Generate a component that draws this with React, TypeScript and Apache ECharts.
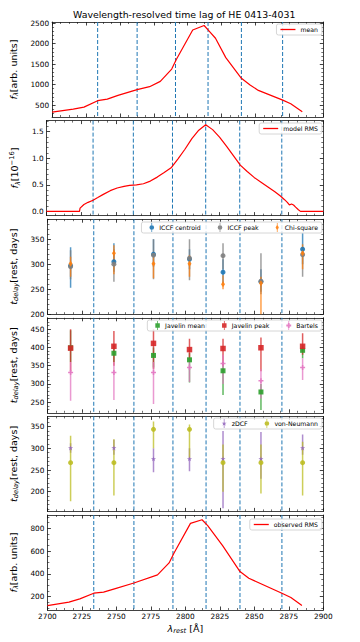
import React, { useEffect, useRef } from 'react';
import * as echarts from 'echarts';

const FONT = 'DejaVu Sans';

// ---------- data ----------
const xTickStep = 25;
const binEdges = [2733.6, 2762.7, 2791.0, 2815.0, 2839.6, 2870.0];
const binCenters = [2716.8, 2748.2, 2776.9, 2803.0, 2827.3, 2854.8, 2885.0];

const meanWave = [2700, 2715.6, 2723.5, 2733.6, 2740.7, 2748.6, 2762.7, 2771.9, 2779.8, 2788.2, 2791.8, 2803.7, 2812.1, 2815.5, 2820.5, 2828.1, 2839.6, 2846.0, 2852.1, 2870.1, 2876.0, 2884.5];
const meanFlux = [329, 402, 451, 608, 647, 737, 877, 950, 1080, 1380, 1625, 2336, 2444, 2321, 2133, 1660, 1154, 990, 860, 622, 534, 338];

const modelWave = [2700, 2710, 2720, 2723.8, 2724.2, 2727, 2730, 2733.6, 2737, 2741, 2746, 2751, 2756, 2760, 2765, 2770, 2775, 2780, 2785, 2790, 2795, 2800, 2805, 2810, 2815, 2820, 2825, 2830, 2835, 2840, 2845, 2850, 2855, 2860, 2865, 2869, 2872, 2874, 2875.5, 2877, 2878.5, 2880, 2882, 2883.5, 2890, 2900];
const modelFlux = [0, 0, 0, 0, 0.06, 0.13, 0.17, 0.21, 0.26, 0.32, 0.39, 0.44, 0.47, 0.49, 0.5, 0.52, 0.57, 0.645, 0.73, 0.82, 0.99, 1.17, 1.37, 1.53, 1.63, 1.54, 1.4, 1.23, 1.05, 0.87, 0.75, 0.64, 0.55, 0.46, 0.37, 0.29, 0.22, 0.17, 0.12, 0.14, 0.12, 0.08, 0.03, 0.0, 0, 0];

const rmsWave = [2700, 2715.6, 2723.5, 2733.6, 2740.7, 2748.6, 2762.7, 2779.8, 2788.2, 2791.8, 2803.7, 2812.1, 2816.2, 2827.0, 2839.6, 2846.0, 2870.0, 2876.5, 2884.5];
const rmsFlux = [120, 150, 179, 229, 238, 267, 319, 390, 495, 582, 843, 875, 823, 647, 419, 360, 229, 191, 121];

const iccfCentroid = [297, 305, 320, 310, 284, 265, 330];
const iccfCentroidLo = [253, 285, 295, 290, 262, 245, 300];
const iccfCentroidHi = [334, 342, 350, 330, 310, 290, 362];
const iccfPeak = [295, 300, 318, 312, 317, 266, 319];
const iccfPeakLo = [270, 265, 270, 268, 290, 240, 275];
const iccfPeakHi = [328, 330, 350, 350, 342, 322, 332];
const chiSquare = [301, 322, 301, 301, 260, 262, 322];
const chiSquareLo = [275, 280, 272, 275, 250, 195, 290];
const chiSquareHi = [315, 338, 318, 318, 278, 275, 340];

const javelinMean = [399, 384, 378, 366, 336, 278, 392];
const javelinMeanLo = [360, 360, 345, 304, 270, 229, 370];
const javelinMeanHi = [447, 405, 400, 385, 360, 300, 405];
const javelinPeak = [398, 403, 411, 394, 397, 399, 403];
const javelinPeakLo = [334, 350, 340, 370, 350, 335, 380];
const javelinPeakHi = [450, 445, 450, 424, 424, 427, 439];
const bartels = [331, 331, 331, 345, 356, 309, 345];
const bartelsLo = [254, 256, 245, 305, 300, 260, 311];
const bartelsHi = [360, 360, 360, 370, 380, 340, 370];

const zdcf = [301, 301, 276, 276, 276, 276, 301];
const zdcfLo = [290, 285, 245, 247, 162, 230, 285];
const zdcfHi = [312, 320, 300, 300, 340, 338, 332];
const vonNeumann = [267, 267, 344, 344, 267, 267, 267];
const vonNeumannLo = [178, 191, 300, 278, 200, 196, 191];
const vonNeumannHi = [329, 321, 362, 355, 309, 309, 315];

const yTicks1 = [500, 1000, 1500, 2000, 2500];
const yTicks2 = [0, 0.5, 1.0, 1.5];
const yTicks3 = [200, 250, 300, 350];
const yTicks4 = [250, 300, 350, 400, 450];
const yTicks5 = [200, 250, 300, 350];
const yTicks6 = [200, 400, 600, 800];

// ---------- layout / styles ----------
const panelTops = [22, 120.6, 219.2, 317.8, 416.4, 515];
const PANEL_H = 95;
const GRID_LEFT = 45;
const GRID_W = 278.3;

const AX = '#111';
const TICK_FS = 7.35;
const LBL_FS = 9.5;
const SUB_FS = 6.7;

const richLabel = {
  i: { fontSize: LBL_FS, fontStyle: 'italic', fontFamily: FONT, color: '#000', lineHeight: 13, verticalAlign: 'middle' },
  s: { fontSize: SUB_FS, fontStyle: 'italic', fontFamily: FONT, color: '#000', lineHeight: 13, verticalAlign: 'bottom' },
  p: { fontSize: SUB_FS, fontFamily: FONT, color: '#000', lineHeight: 13, verticalAlign: 'top' },
  n: { fontSize: LBL_FS, fontFamily: FONT, color: '#000', lineHeight: 13, verticalAlign: 'middle' },
};

const ICON_CIRCLE = 'path://M4.6,0H5.4V10H4.6Z M2.4,5A2.6,2.6 0 1 1 7.6,5A2.6,2.6 0 1 1 2.4,5Z';
const ICON_SQUARE = 'path://M4.6,0H5.4V10H4.6Z M2.5,2.5H7.5V7.5H2.5Z';
const ICON_DIAMOND = 'path://M4.6,0H5.4V10H4.6Z M5,1.8L6.8,5L5,8.2L3.2,5Z';
const ICON_PLUS = 'path://M4.6,0H5.4V10H4.6Z M4,2.3H6V4H7.7V6H6V7.7H4V6H2.3V4H4Z';
const ICON_STAR = 'path://M4.6,0H5.4V10H4.6Z M5,2.2L5.7,4.2L7.8,4.2L6.1,5.4L6.7,7.5L5,6.2L3.3,7.5L3.9,5.4L2.2,4.2L4.3,4.2Z';

const SYM_PLUS = 'path://M35,0H65V35H100V65H65V100H35V65H0V35H35Z';
const SYM_STAR = 'path://M50,0L61,35L98,35L68,57L79,91L50,70L21,91L32,57L2,35L39,35Z';

function minorValues(min: number, max: number, step: number, majors: number[]) {
  const out: number[] = [];
  const start = Math.ceil(min / step - 1e-9) * step;
  for (let v = start; v <= max + 1e-9; v += step) {
    const r = Math.round(v * 1e6) / 1e6;
    if (!majors.some((m) => Math.abs(m - r) < 1e-6)) out.push(r);
  }
  return out;
}

const yCfg = [
  { min: 210, max: 2530, majors: yTicks1, step: 100, fmt: (v: number) => String(v), name: '{i|f}{s|λ}{n|[arb. units]}' },
  { min: -0.08, max: 1.71, majors: yTicks2, step: 0.1, fmt: (v: number) => v.toFixed(1), name: '{i|f}{s|λ}{n|[10}{p|−16}{n|]}' },
  { min: 200, max: 390, majors: yTicks3, step: 10, fmt: (v: number) => String(v), name: '{i|t}{s|delay}{n|[rest, days]}' },
  { min: 221, max: 481, majors: yTicks4, step: 10, fmt: (v: number) => String(v), name: '{i|t}{s|delay}{n|[rest, days]}' },
  { min: 154.5, max: 373.8, majors: yTicks5, step: 10, fmt: (v: number) => String(v), name: '{i|t}{s|delay}{n|[rest, days]}' },
  { min: 81, max: 917, majors: yTicks6, step: 50, fmt: (v: number) => String(v), name: '{i|f}{s|λ}{n|[arb. units]}' },
];

function buildOption() {
  const grid = panelTops.map((t) => ({ left: GRID_LEFT, width: GRID_W, top: t, height: PANEL_H, containLabel: false }));
  const lineStyle = { color: AX, width: 0.8 };
  const xAxis: any[] = [];
  const yAxis: any[] = [];
  panelTops.forEach((_, g) => {
    const isLast = g === panelTops.length - 1;
    ['bottom', 'top'].forEach((pos) => {
      xAxis.push({
        type: 'value', gridIndex: g, position: pos, min: 2700, max: 2900, interval: xTickStep,
        axisLine: { show: true, onZero: false, lineStyle },
        axisTick: { show: true, inside: true, length: 3.5, lineStyle },
        minorTick: { show: true, splitNumber: 4, length: 2, lineStyle: { color: AX, width: 0.6 } },
        splitLine: { show: false },
        minorSplitLine: { show: false },
        axisLabel: {
          show: isLast && pos === 'bottom', fontSize: TICK_FS, color: '#000', fontFamily: FONT, margin: 3,
          formatter: (v: number) => String(v),
        },
        name: isLast && pos === 'bottom' ? '{i|λ}{s|rest}{n| [Å]}' : '',
        nameLocation: 'middle', nameGap: 11.5,
        nameTextStyle: { rich: richLabel },
      });
    });
    const c = yCfg[g];
    const minors = minorValues(c.min, c.max, c.step, c.majors);
    ['left', 'right'].forEach((pos) => {
      yAxis.push({
        type: 'value', gridIndex: g, position: pos, min: c.min, max: c.max,
        axisLine: { show: true, onZero: false, lineStyle },
        axisTick: { show: true, inside: true, length: 3.5, customValues: c.majors, lineStyle },
        axisLabel: { show: pos === 'left', customValues: c.majors, formatter: c.fmt, fontSize: TICK_FS, color: '#000', fontFamily: FONT, margin: 3 },
        splitLine: { show: false },
        name: pos === 'left' ? c.name : '',
        nameLocation: 'middle', nameRotate: 90, nameGap: 17.5,
        nameTextStyle: { rich: richLabel },
      });
      yAxis.push({
        type: 'value', gridIndex: g, position: pos, min: c.min, max: c.max,
        axisLine: { show: false, onZero: false },
        axisTick: { show: true, inside: true, length: 2, customValues: minors, lineStyle: { color: AX, width: 0.6 } },
        axisLabel: { show: false },
        splitLine: { show: false },
      });
    });
  });

  const series: any[] = [];
  // dashed bin edges
  yCfg.forEach((c, g) => {
    series.push({
      type: 'custom', name: 'edges' + g, xAxisIndex: 2 * g, yAxisIndex: 4 * g, silent: true, z: 1,
      data: binEdges.map((e) => [e, (c.min + c.max) / 2]),
      encode: { x: 0, y: 1 },
      renderItem: (params: any, api: any) => {
        const cs = params.coordSys;
        const x = api.coord([api.value(0), api.value(1)])[0];
        return {
          type: 'line',
          shape: { x1: x, y1: cs.y, x2: x, y2: cs.y + cs.height },
          style: { stroke: '#1f77b4', lineWidth: 1, lineDash: [4, 2] },
        };
      },
    });
  });

  const addLine = (name: string, g: number, xs: number[], ys: number[]) => {
    series.push({
      type: 'line', name, xAxisIndex: 2 * g, yAxisIndex: 4 * g, z: 3,
      data: xs.map((x, i) => [x, ys[i]]),
      showSymbol: false, symbol: 'none', clip: true,
      lineStyle: { color: '#ff0000', width: 1.2 }, itemStyle: { color: '#ff0000' },
    });
  };
  addLine('mean', 0, meanWave, meanFlux);
  addLine('model RMS', 1, modelWave, modelFlux);
  addLine('observed RMS', 5, rmsWave, rmsFlux);

  const addErr = (name: string, g: number, color: string, symbol: string, size: any, vals: number[], lo: number[], hi: number[]) => {
    series.push({
      type: 'custom', name: name + ' err', xAxisIndex: 2 * g, yAxisIndex: 4 * g, clip: true, z: 3, silent: true,
      data: binCenters.map((x, i) => [x, lo[i], hi[i]]),
      encode: { x: 0, y: [1, 2] },
      renderItem: (_p: any, api: any) => {
        const a = api.coord([api.value(0), api.value(1)]);
        const b = api.coord([api.value(0), api.value(2)]);
        return {
          type: 'line',
          shape: { x1: a[0], y1: a[1], x2: b[0], y2: b[1] },
          style: { stroke: color, lineWidth: 1.5, opacity: 0.75 },
        };
      },
    });
    series.push({
      type: 'scatter', name, xAxisIndex: 2 * g, yAxisIndex: 4 * g, z: 3,
      data: binCenters.map((x, i) => [x, vals[i]]),
      symbol, symbolSize: size,
      itemStyle: { color, opacity: 0.9 },
    });
  };
  addErr('ICCF centroid', 2, '#1f77b4', 'circle', 5, iccfCentroid, iccfCentroidLo, iccfCentroidHi);
  addErr('ICCF peak', 2, '#7f7f7f', 'circle', 5, iccfPeak, iccfPeakLo, iccfPeakHi);
  addErr('Chi-square', 2, '#ff7f0e', 'diamond', [4, 6], chiSquare, chiSquareLo, chiSquareHi);
  addErr('Javelin mean', 3, '#2ca02c', 'rect', 5, javelinMean, javelinMeanLo, javelinMeanHi);
  addErr('Javelin peak', 3, '#d62728', 'rect', 5.5, javelinPeak, javelinPeakLo, javelinPeakHi);
  addErr('Bartels', 3, '#e377c2', SYM_PLUS, 5, bartels, bartelsLo, bartelsHi);
  addErr('zDCF', 4, '#9467bd', SYM_STAR, 5, zdcf, zdcfLo, zdcfHi);
  addErr('von-Neumann', 4, '#bcbd22', 'circle', 5, vonNeumann, vonNeumannLo, vonNeumannHi);

  const legendBase = {
    orient: 'horizontal', selectedMode: false,
    textStyle: { fontSize: 6.2, color: '#000', fontFamily: FONT },
    padding: [2.5, 4, 2.5, 4],
    borderColor: '#cccccc', borderWidth: 0.8, borderRadius: 2,
    backgroundColor: 'rgba(255,255,255,0.8)',
    itemGap: 17,
  };
  const lineLegend = (name: string, top: number) => ({
    ...legendBase, right: 38, top, itemWidth: 15, itemHeight: 1.3,
    data: [{ name, icon: 'rect' }],
  });
  const errLegend = (items: { name: string; icon: string }[], top: number) => ({
    ...legendBase, right: 38, top, itemWidth: 5, itemHeight: 9, padding: [1, 4, 1, 8],
    data: items,
  });

  return {
    animation: false,
    backgroundColor: '#ffffff',
    textStyle: { fontFamily: FONT },
    title: {
      text: 'Wavelength-resolved time lag of HE 0413-4031',
      left: 184.2, top: 10, textAlign: 'center', padding: 0,
      textStyle: { fontSize: 9.4, fontWeight: 'normal', color: '#000', fontFamily: FONT },
    },
    grid, xAxis, yAxis, series,
    legend: [
      lineLegend('mean', 24),
      lineLegend('model RMS', 123),
      errLegend([
        { name: 'ICCF centroid', icon: ICON_CIRCLE },
        { name: 'ICCF peak', icon: ICON_CIRCLE },
        { name: 'Chi-square', icon: ICON_DIAMOND },
      ], 222),
      errLegend([
        { name: 'Javelin mean', icon: ICON_SQUARE },
        { name: 'Javelin peak', icon: ICON_SQUARE },
        { name: 'Bartels', icon: ICON_PLUS },
      ], 320),
      errLegend([
        { name: 'zDCF', icon: ICON_STAR },
        { name: 'von-Neumann', icon: ICON_CIRCLE },
      ], 418),
      lineLegend('observed RMS', 519),
    ],
  };
}

export default function App() {
  const ref = useRef<HTMLDivElement>(null);
  useEffect(() => {
    if (!ref.current) return;
    const chart = echarts.init(ref.current, undefined, { renderer: 'svg' });
    chart.setOption(buildOption() as any);
    return () => chart.dispose();
  }, []);
  return (
    <div
      ref={ref}
      style={{ position: 'absolute', left: 0, top: 0, width: 360, height: 642, background: '#fff' }}
    />
  );
}
